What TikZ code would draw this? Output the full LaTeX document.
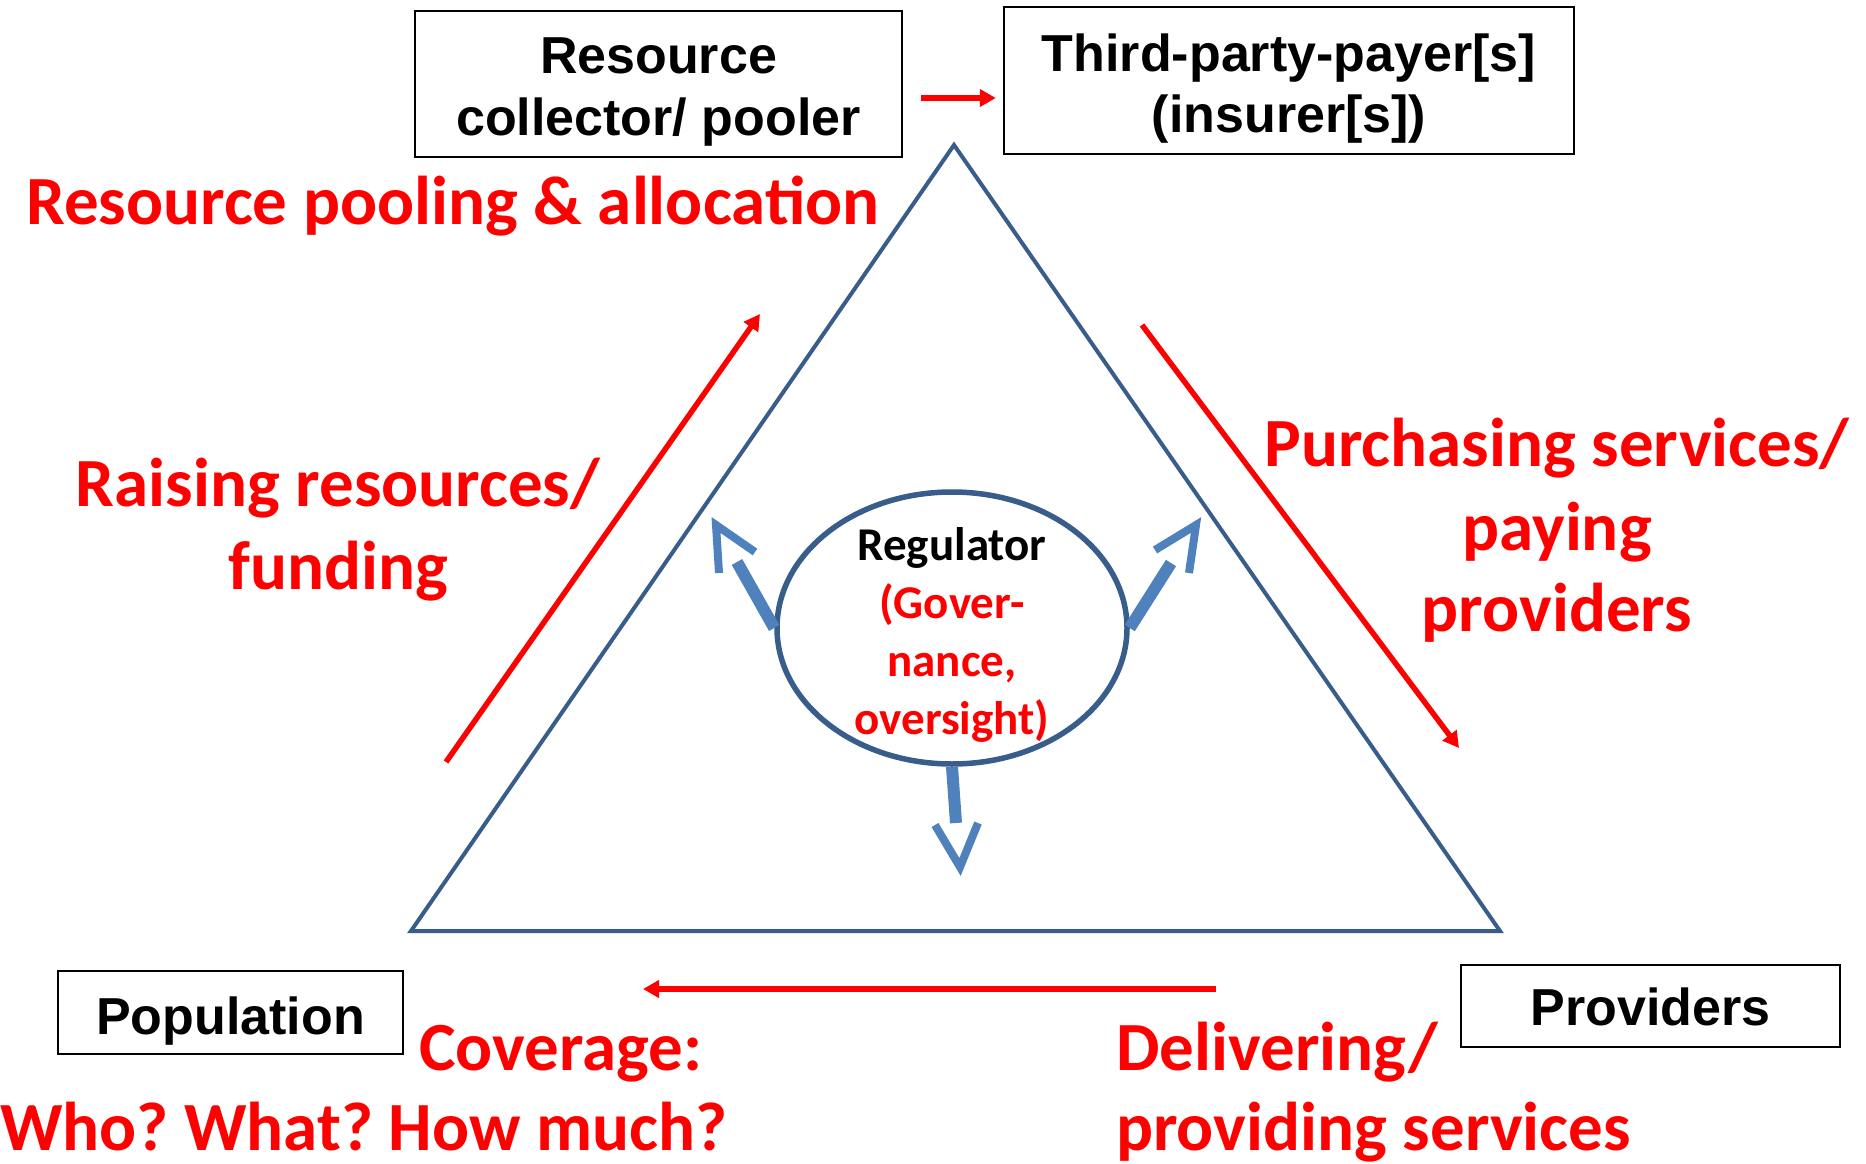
\documentclass[tikz,border=0pt]{standalone}
\usepackage{fontspec}
\setmainfont{Carlito}
\newfontfamily\boxfont{Liberation Sans}
\newfontfamily\calfont{Carlito}
\usetikzlibrary{shapes.geometric,arrows.meta,calc}
\definecolor{hred}{RGB}{255,0,0}
\definecolor{tri}{RGB}{56,93,138}
\definecolor{barrow}{RGB}{79,129,189}
\frenchspacing
\begin{document}
\begin{tikzpicture}[x=1pt,y=-1pt,
  box/.style={draw=black,line width=2.4pt,inner sep=0pt},
  boxtxt/.style={inner sep=0pt,anchor=base,font=\boxfont\bfseries\fontsize{52}{61}\selectfont},
  redlbl/.style={text=hred,inner sep=0pt,font=\calfont\bfseries\fontsize{69}{83}\selectfont},
  reglbl/.style={inner sep=0pt,anchor=base,font=\calfont\bfseries\fontsize{47}{58}\selectfont},
  redarrow/.style={draw=hred,line width=5.5pt,-{Triangle[length=16pt,width=17pt]}},
  shaft/.style={draw=barrow,line width=12pt},
  vhead/.style={draw=barrow,line width=8pt,line join=miter},
]
\fill[white] (0,0) rectangle (1866,1164);
\useasboundingbox (0,0) rectangle (1866,1164);

% boxes
\node[box,minimum width=487pt,minimum height=146pt] (rc) at (658.5,84) {};
\node[boxtxt] (rct1) at (658.5,74) {Resource};
\node[boxtxt] (rct2) at (658.5,135) {collector/ pooler};
\node[box,minimum width=570pt,minimum height=147pt] (tp) at (1289,80.5) {};
\node[boxtxt] (tpt1) at (1289,72) {Third-party-payer[s]};
\node[boxtxt] (tpt2) at (1289,132) {(insurer[s])};
\node[box,minimum width=345pt,minimum height=83pt] (pop) at (230.5,1012.5) {};
\node[boxtxt] (popt) at (230.5,1034) {Population};
\node[box,minimum width=379pt,minimum height=82pt] (prov) at (1650.5,1006) {};
\node[boxtxt] (provt) at (1650.5,1025) {Providers};

% triangle
\coordinate (apex) at (954,145);
\coordinate (bl) at (411,931);
\coordinate (br) at (1500,931);
\draw[tri,line width=4pt,line join=miter] (apex) -- (bl) -- (br) -- cycle;

% regulator
\node[ellipse,draw=tri,line width=5.5pt,minimum width=350pt,minimum height=272pt,inner sep=0pt] (reg) at (952,628) {};
\node[reglbl] (r1) at (952,560) {Regulator};
\node[reglbl,text=hred] (r2) at (952,618) {(Gover-};
\node[reglbl,text=hred] (r3) at (952,676) {nance,};
\node[reglbl,text=hred] (r4) at (952,734) {oversight)};

% blue arrows
\coordinate (lt) at (737,562);
\coordinate (rt) at (1171,563);
\coordinate (bt) at (956,823);
\draw[shaft] (reg.west) -- (lt);
\draw[shaft] (reg.east) -- (rt);
\draw[shaft] (reg.south) -- (bt);
\draw[vhead] (719,573) -- (716,525) -- (755,552);
\draw[vhead] (1155,550) -- (1196,525) -- (1189,573);
\draw[vhead] (935,825) -- (960,867) -- (978,823);

% red arrows
\coordinate (ya) at (0,98);
\draw[redarrow,shorten <=18pt,shorten >=7pt] (rc.east |- ya) -- (tp.west |- ya);
\coordinate (la0) at (446,762);
\coordinate (la1) at (760,314);
\draw[redarrow] (la0) -- (la1);
\coordinate (ra0) at (1142,325);
\coordinate (ra1) at (1459,748);
\draw[redarrow] (ra0) -- (ra1);
\coordinate (ba0) at (1216,989);
\coordinate (ba1) at (643,989);
\draw[redarrow,line width=6pt] (ba0) -- (ba1);

% red labels
\node[redlbl,anchor=base west] (l1) at (26,224) {Resource pooling \& allocation};
\node[redlbl,anchor=base] (l2) at (338,506) {Raising resources/};
\node[redlbl,anchor=base] (l3) at (338,589) {funding};
\node[redlbl,anchor=base] (l4) at (1557,466) {Purchasing services/};
\node[redlbl,anchor=base] (l5) at (1557,550) {paying};
\node[redlbl,anchor=base] (l6) at (1557,631) {providers};
\node[redlbl,anchor=base west] (l7) at (419,1070) {Coverage:};
\node[redlbl,anchor=base west] (l8) at (0,1150) {Who? What? How much?};
\node[redlbl,anchor=base west] (l9) at (1116,1070) {Delivering/};
\node[redlbl,anchor=base west] (l10) at (1116,1150) {providing services};
\end{tikzpicture}
\end{document}
